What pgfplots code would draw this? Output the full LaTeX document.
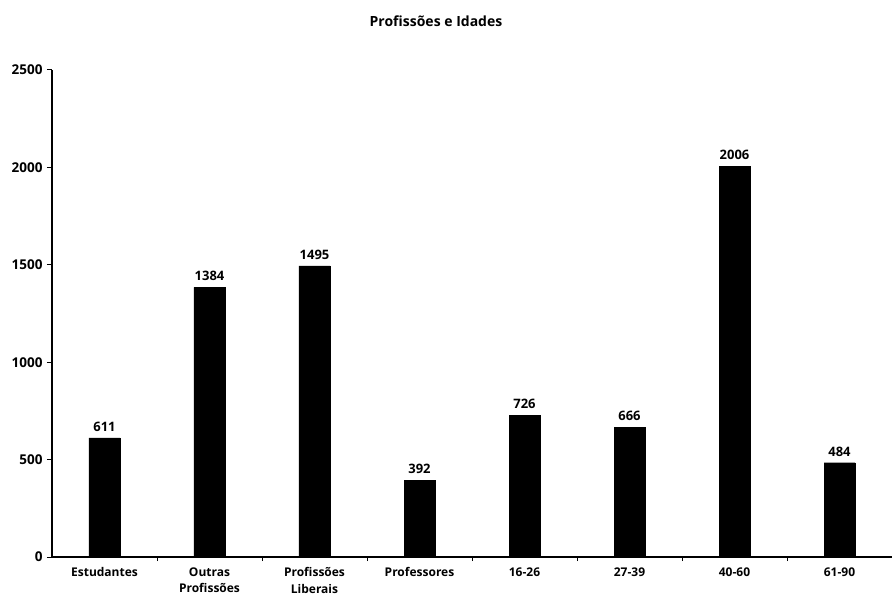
\documentclass[border=0pt]{standalone}
\usepackage{fontspec}
\setmainfont{Open Sans}
\usepackage{pgfplots}
\pgfplotsset{compat=1.18}
\begin{document}
\begin{tikzpicture}
\path[use as bounding box] (0,0) rectangle (892bp,601bp);
\begin{axis}[
    at={(52bp,44bp)}, anchor=south west,
    scale only axis,
    width=840bp, height=487bp,
    axis x line*=bottom, axis y line*=left,
    axis line style={line width=1.2pt},
    xmin=-0.5, xmax=7.5,
    ymin=0, ymax=2500,
    ytick={0,500,...,2500},
    xtick={0,...,7},
    xticklabels={Estudantes,Outras\\Profissões,Profissões\\Liberais,Professores,16-26,27-39,40-60,61-90},
    minor xtick={0.5,1.5,...,6.5},
    major x tick style={draw=none},
    tick align=outside,
    major tick length=5bp, minor tick length=4bp,
    tick style={black, line width=1pt},
    xticklabel style={align=center, font=\fontsize{12bp}{16.5bp}\selectfont\bfseries, yshift=-2bp},
    yticklabel style={font=\fontsize{13.5bp}{15bp}\selectfont\bfseries, xshift=-1bp},
    /pgf/number format/assume math mode=true,
    /pgf/number format/1000 sep={},
    ybar, bar width=31bp,
    nodes near coords,
    nodes near coords style={font=\fontsize{13bp}{15bp}\selectfont\bfseries, /pgf/number format/1000 sep={}, yshift=3bp},
]
\addplot[fill=black, draw=black] coordinates {
    (0,611) (1,1384) (2,1495) (3,392) (4,726) (5,666) (6,2006) (7,484)
};
\end{axis}
\node[font=\fontsize{14bp}{16bp}\selectfont\bfseries] at (436bp,580bp) {Profissões e Idades};
\end{tikzpicture}
\end{document}
